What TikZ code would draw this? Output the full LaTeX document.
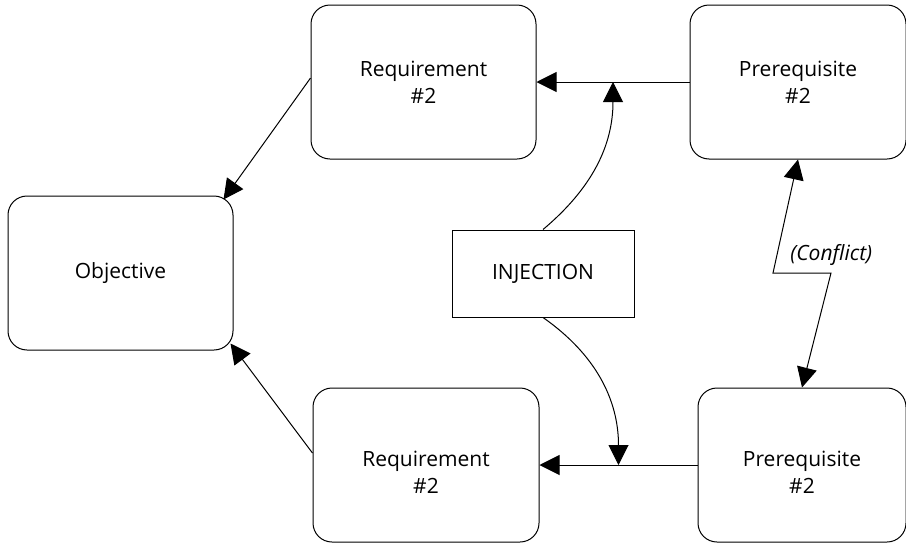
\documentclass[tikz,border=0pt]{standalone}
\usepackage{fontspec}
\setmainfont{Open Sans}
\usetikzlibrary{arrows.meta,positioning,calc}
\newcommand{\diafont}{\fontsize{10.5}{13.5}\selectfont}
\newcommand{\lowstrut}{\rule{0pt}{15pt}}

\begin{document}
\begin{tikzpicture}[
    x=0.5pt, y=0.5pt,
    goalbox/.style={rectangle, draw, line width=0.5pt, rounded corners=9.5pt,
        align=center, font=\diafont, inner sep=2pt,
        minimum width=112.5pt, minimum height=77pt},
    injbox/.style={rectangle, draw, line width=0.5pt, align=center,
        font=\diafont, minimum width=91pt, minimum height=43.5pt},
    lbl/.style={font=\diafont\itshape, inner sep=0pt},
    arr/.style={-{Triangle[length=10pt, width=10pt]}, line width=0.5pt},
    dblarr/.style={{Triangle[length=10pt, width=10pt]}-{Triangle[length=10pt, width=10pt]},
        line width=0.5pt}
]
    \useasboundingbox (0,0) rectangle (906,543);

    \node[goalbox] (obj) at (120.5,270) {Objective};
    \node[goalbox] (req1) at (423.5,461) {Requirement\\\#2};
    \node[goalbox, minimum width=108pt, right=76.5pt of req1] (pre1) {Prerequisite\\\#2};
    \node[goalbox, minimum width=113pt] (req2) at (426,78) {\lowstrut Requirement\\\#2};
    \node[goalbox, minimum width=104pt, right=79pt of req2] (pre2) {\lowstrut Prerequisite\\\#2};
    \node[injbox] (inj) at (543,269.5) {INJECTION};

    % where the injection meets the two links
    \coordinate (jTop) at ($(req1.east)!0.5!(pre1.west)$);
    \coordinate (jBot) at ($(req2.east)!0.5!(pre2.west)$);
    % kink of the conflict line
    \coordinate (kinkA) at (773,270);
    \coordinate (kinkB) at (831,270);

    \draw[arr] (pre1) -- (req1);
    \draw[arr] (pre2) -- (req2);
    \draw[arr] (req1.178) -- ($(obj.north east)+(-10,-4)$);
    \draw[arr] (req2.174) -- ($(obj.south east)+(-3,7)$);

    \draw[arr] (inj.north) to[out=40, in=-90] (jTop);
    \draw[arr] (inj.south) to[out=-35, in=90] (jBot);

    \draw[dblarr] (pre1.south) -- (kinkA) -- (kinkB) -- (pre2.north);
    \node[lbl, above right=3.5pt and 8.5pt of kinkA] (conflict) {(Conflict)};
\end{tikzpicture}
\end{document}
